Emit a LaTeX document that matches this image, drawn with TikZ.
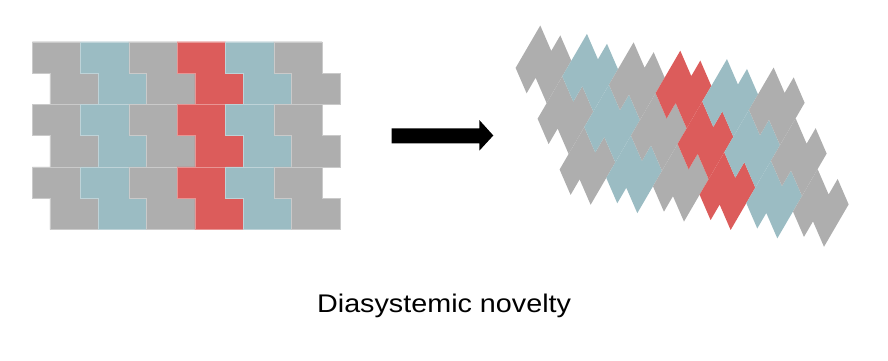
\documentclass[tikz,border=0pt]{standalone}
\usepackage{fontspec}
\setmainfont{Liberation Sans}
\definecolor{tilegray}{HTML}{AEAEAE}
\definecolor{tileblue}{HTML}{9BBCC3}
\definecolor{tilered}{HTML}{DC5C5B}
% one S-shaped tile: two unit blocks, the lower one shifted by 0.366
\newcommand{\stile}[3]{%
  \path[#3] (#1,#2) -- ++(1,0) -- ++(0,1) -- ++(0.366,0) -- ++(0,1)
    -- ++(-1,0) -- ++(0,-1) -- ++(-0.366,0) -- cycle;}
\tikzset{
  oldtile/.style={fill=#1, draw=#1!65!white, line width=0.3pt},
  newtile/.style={fill=#1},
}
\begin{document}
\begin{tikzpicture}[x=1pt,y=-1pt]
\useasboundingbox (0,0) rectangle (888,361);
% 左边：原来的拼法
\begin{scope}[shift={(32.3,41.7)}, x={(48.3pt,0pt)}, y={(0pt,-31.3pt)}]
\foreach \k/\c in {0/tilegray,1/tileblue,2/tilegray,3/tilered,4/tileblue,5/tilegray}{
  \foreach \j in {0,1,2}{
    \stile{\k}{2*\j}{oldtile=\c}
  }
}
\end{scope}
% 中间：箭头
\fill[black] (391.7,128.3) -- (479.3,128.3) -- (479.3,120) -- (493.3,135.5)
  -- (479.3,150.7) -- (479.3,143.3) -- (391.7,143.3) -- cycle;
% 右边：新的拼法（同样的块，换了方向）
\begin{scope}[shift={(515.6,67.9)}, x={(24.67pt,42.4pt)}, y={(11pt,-25.4pt)}]
\foreach \k/\c in {0/tilegray,1/tileblue,2/tilegray,3/tilered,4/tileblue,5/tilegray}{
  \foreach \j in {0,1,2}{
    \stile{\k}{2*\k+2*\j}{newtile=\c}
  }
}
\end{scope}
% 说明文字
\node[anchor=base, inner sep=0pt, xscale=1.127, font=\fontsize{25.5}{30}\selectfont] (caption)
  at (444.1,312.8) {Diasystemic novelty};
\end{tikzpicture}
\end{document}
